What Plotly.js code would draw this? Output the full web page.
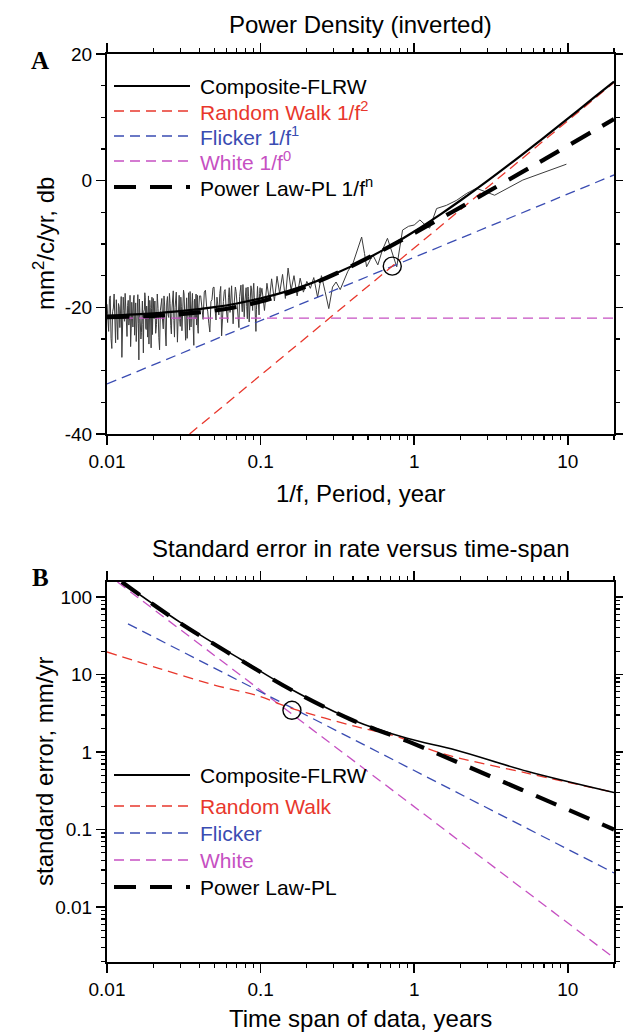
<!DOCTYPE html>
<html>
<head>
<meta charset="utf-8">
<script src="https://cdn.plot.ly/plotly-3.0.1.min.js"></script>
<style>html,body{margin:0;padding:0;background:#fff;}#chart{width:623px;height:1032px;}</style>
</head>
<body>
<div id="chart"></div>
<script>
// ---------- Panel A : power density (inverted) ----------
// observed spectrum (thin noisy line): period (yr) and power (dB)
const obsPeriod = [
0.01000,0.010125,0.01025,0.010375,0.0105,0.010625,0.01075,0.010875,0.011,0.011125,
0.01125,0.011375,0.0115,0.011625,0.01175,0.011875,0.012,0.012125,0.01225,0.012375,
0.0125,0.012625,0.01275,0.012875,0.013,0.013125,0.01325,0.013375,0.0135,0.013625,
0.01375,0.013875,0.014,0.014125,0.01425,0.014375,0.0145,0.014625,0.01475,0.014875,
0.015,0.015125,0.01525,0.015375,0.0155,0.015625,0.01575,0.015875,0.016,0.016125,
0.01625,0.016375,0.0165,0.016625,0.01675,0.016875,0.017,0.017125,0.01725,0.017375,
0.0175,0.017625,0.01775,0.017875,0.018,0.018125,0.01825,0.018375,0.0185,0.018625,
0.01875,0.018875,0.019,0.019125,0.01925,0.019375,0.0195,0.019625,0.01975,0.019875,0.02,
0.02025,0.0205,0.02075,0.021,0.02125,0.0215,0.02175,0.022,0.02225,0.0225,
0.02275,0.023,0.02325,0.0235,0.02375,0.024,0.02425,0.0245,0.02475,0.025,
0.02525,0.0255,0.02575,0.026,0.02625,0.0265,0.02675,0.027,0.02725,0.0275,
0.02775,0.028,0.02825,0.0285,0.02875,0.029,0.02925,0.0295,0.02975,0.03,
0.03025,0.0305,0.03075,0.031,0.03125,0.0315,0.03175,0.032,0.03225,0.0325,
0.03275,0.033,0.03325,0.0335,0.03375,0.034,0.03425,0.0345,0.03475,0.035,
0.03525,0.0355,0.03575,0.036,0.03625,0.0365,0.03675,0.037,0.03725,0.0375,
0.03775,0.038,0.03825,0.0385,0.03875,0.039,0.03925,0.0395,0.03975,0.04,
0.04075,0.0415,0.04225,0.043,0.04375,0.0445,0.04525,0.046,0.04675,0.0475,
0.04825,0.049,0.04975,0.0505,0.05125,0.052,0.05275,0.0535,0.05425,0.055,
0.05575,0.0565,0.05725,0.058,0.05875,0.0595,0.06025,0.061,0.06175,0.0625,
0.06325,0.064,0.06475,0.0655,0.06625,0.067,0.06775,0.0685,0.06925,0.07,
0.07075,0.0715,0.07225,0.073,0.07375,0.0745,0.07525,0.076,0.07675,0.0775,
0.07825,0.079,0.07975,0.0805,0.08125,0.082,0.08275,0.0835,0.08425,0.085,
0.08575,0.0865,0.08725,0.088,0.08875,0.0895,0.09025,0.091,0.09175,0.0925,
0.09325,0.094,0.09475,0.0955,0.09625,0.097,0.09775,0.0985,0.09925,0.1,
0.102,0.106,0.110,0.114,0.118,0.123,0.128,0.133,0.139,0.145,
0.151,0.158,0.165,0.173,0.181,0.190,0.200,0.211,0.222,0.235,
0.249,0.263,0.278,0.294,
0.31,0.33,0.35,0.37,0.40,0.43,0.455,0.475,0.49,0.52,
0.54,0.58,0.62,0.67,0.72,0.77,0.84,0.92,1.0,1.09,
1.18,1.26,1.40,1.62,1.89,2.2,2.54,3.34,5.1,9.8
];
const obsPower = [
-19.5,-22.4,-23.8,-18.6,-18.2,-24.9,-26.5,-20.7,-20.1,-17.9,
-22.9,-25.6,-18.8,-21.3,-25.1,-19.4,-19.9,-23.2,-21.5,-18.3,
-27.9,-22.6,-18.4,-20.5,-22.2,-17.8,-20.3,-24.1,-24.6,-19.7,
-18.9,-22.8,-21.8,-18.1,-26.2,-23.4,-19.2,-21.0,-23.1,-18.7,
-18.1,-24.4,-20.8,-19.3,-25.4,-21.7,-19.6,-18.0,-22.5,-28.3,
-18.7,-20.9,-21.1,-25.0,-24.0,-19.1,-19.0,-22.7,-27.2,-20.6,
-20.4,-17.7,-18.5,-23.3,-23.5,-19.8,-21.0,-24.7,-19.3,-18.2,
-25.8,-21.9,-18.9,-20.0,-22.0,-26.4,-20.2,-18.4,-24.3,-21.6,-18.6,
-21.8,-19.0,-24.1,-22.7,-17.9,-20.2,-24.8,-26.7,-20.5,-18.9,
-18.6,-22.0,-23.4,-18.2,-19.8,-23.9,-26.1,-19.3,-18.3,-21.2,
-21.6,-17.8,-19.4,-22.9,-24.2,-20.1,-18.0,-17.4,-22.1,-24.7,
-20.0,-18.8,-17.6,-21.7,-25.5,-22.3,-19.5,-18.1,-21.9,-23.0,
-18.4,-19.9,-23.7,-20.4,-19.9,-17.3,-17.9,-21.5,-22.4,-25.2,
-20.6,-18.5,-24.9,-21.1,-18.8,-17.7,-20.9,-23.6,-17.5,-19.6,
-23.1,-20.8,-19.2,-17.8,-21.4,-24.4,-26.0,-19.0,-18.7,-21.8,
-20.3,-17.9,-22.8,-19.4,-18.1,-23.3,-24.1,-20.5,-19.6,-18.2,
-18.2,-20.4,-21.9,-17.6,-17.3,-19.8,-20.6,-22.5,-23.9,-19.1,
-18.8,-16.9,-16.8,-20.3,-22.0,-18.4,-19.5,-21.2,-17.8,-16.7,
-24.5,-20.6,-19.1,-17.5,-17.2,-19.7,-21.3,-22.4,-18.5,-16.9,
-20.8,-18.2,-16.6,-19.6,-22.6,-20.1,-18.9,-16.8,-17.5,-19.4,
-20.2,-21.7,-23.2,-18.3,-17.0,-16.5,-19.3,-20.7,-16.4,-18.6,
-21.5,-19.2,-18.1,-16.9,-19.9,-21.8,-16.8,-18.3,-22.3,-19.5,
-18.0,-16.6,-17.1,-19.8,-20.5,-17.3,-16.2,-18.4,-19.0,-21.6,
-23.8,-20.3,-17.4,-16.7,-18.6,-20.0,-21.2,-17.8,-16.9,-18.3,
-17.0,-20.5,-16.2,-18.9,-15.5,-19.0,-15.1,-17.8,-14.8,-18.6,
-13.8,-17.3,-15.0,-18.2,-15.4,-17.6,-15.9,-17.0,-15.3,-18.4,
-15.0,-17.5,-20.2,-16.8,
-16.0,-17.2,-15.6,-14.3,-13.0,-10.5,-8.9,-11.5,-13.6,-12.4,
-11.8,-13.3,-11.0,-9.1,-11.4,-13.6,-7.8,-7.2,-7.0,-6.2,
-7.0,-7.5,-4.4,-3.9,-3.1,-2.0,-1.2,-2.3,0.1,2.6
];
// model curves
const modelPeriod = [0.01,0.02,0.03,0.05,0.07,0.1,0.15,0.2,0.3,0.5,0.7,1,1.5,2,3,5,7,10,15,20];
const compositePower = [-21.32,-20.95,-20.61,-19.97,-19.39,-18.59,-17.44,-16.45,-14.78,-12.23,-10.29,-8.02,-5.23,-3.13,-0.03,4.05,6.81,9.79,13.22,15.66];
const powerLawPower = [-21.56,-21.34,-21.08,-20.51,-19.93,-19.07,-17.77,-16.66,-14.82,-12.19,-10.34,-8.29,-5.91,-4.21,-1.78,1.30,3.33,5.50,7.97,9.71];
const whitePeriod = [0.01, 20];
const whitePower = [-21.7, -21.7];
const flickerPeriod = [0.01, 20];
const flickerPower = [-32.1, 0.9];
const rwPeriod = [0.0345, 20];
const rwPower = [-40, 15.5];
const crossA_x = [0.72];
const crossA_y = [-13.5];

// ---------- Panel B : standard error in rate ----------
const seWhiteT = [0.0117, 20];
const seWhite = [156, 0.0022];
const seFlickerT = [0.0137, 20];
const seFlicker = [45, 0.0275];
const seRwT = [0.01, 0.0217, 0.05, 0.096, 0.159, 0.42, 0.77, 1.51, 5.5, 20];
const seRw = [19.5, 12, 7.3, 5.3, 3.66, 2.12, 1.58, 0.96, 0.53, 0.30];
const seCompT = [0.0125, 0.02, 0.03, 0.05, 0.0755, 0.159, 0.398, 0.9, 1.86, 5.5, 20];
const seComp = [156, 81, 47, 25, 15.4, 6.4, 2.59, 1.5, 1.06, 0.56, 0.30];
const sePlT = [0.0125, 0.02, 0.03, 0.05, 0.0755, 0.159, 0.4, 0.92, 2.0, 5.0, 20];
const sePl = [156, 80, 46, 24.5, 15, 6.3, 2.55, 1.36, 0.71, 0.326, 0.10];
const crossB_x = [0.16];
const crossB_y = [3.45];

// tick labels
const xTickVals = [0.01, 0.1, 1, 10];
const xTickText = ['0.01', '0.1', '1', '10'];
const yTickValsA = [-40, -20, 0, 20];
const yTickTextA = ['-40', '-20', '0', '20'];
const yTickValsB = [0.01, 0.1, 1, 10, 100];
const yTickTextB = ['0.01', '0.1', '1', '10', '100'];

// legend labels
const legendA = ['Composite-FLRW', 'Random Walk 1/f<sup>2</sup>', 'Flicker 1/f<sup>1</sup>', 'White 1/f<sup>0</sup>', 'Power Law-PL 1/f<sup>n</sup>'];
const legendB = ['Composite-FLRW', 'Random Walk', 'Flicker', 'White', 'Power Law-PL'];

// ---------- styles ----------
const RED = '#e8372c', BLUE = '#3a4cb2', MAG = '#c650c2', GRAY = '#3c3c3c';
const styles = [
  {color: 'black', width: 2, dash: 'solid'},
  {color: RED, width: 1.3, dash: '10px,6px'},
  {color: BLUE, width: 1.3, dash: '10px,6px'},
  {color: MAG, width: 1.3, dash: '10px,6px'},
  {color: 'black', width: 4.2, dash: '22px,14px'}
];
const FONT = 'Liberation Sans, Arial, Helvetica, sans-serif';

const traces = [
  {x: obsPeriod, y: obsPower, xaxis: 'x', yaxis: 'y', mode: 'lines', line: {color: GRAY, width: 1}},
  {x: whitePeriod, y: whitePower, xaxis: 'x', yaxis: 'y', mode: 'lines', line: styles[3]},
  {x: flickerPeriod, y: flickerPower, xaxis: 'x', yaxis: 'y', mode: 'lines', line: styles[2]},
  {x: rwPeriod, y: rwPower, xaxis: 'x', yaxis: 'y', mode: 'lines', line: styles[1]},
  {x: modelPeriod, y: compositePower, xaxis: 'x', yaxis: 'y', mode: 'lines', line: Object.assign({shape: 'spline'}, styles[0], {width: 2.2})},
  {x: modelPeriod, y: powerLawPower, xaxis: 'x', yaxis: 'y', mode: 'lines', line: Object.assign({shape: 'spline'}, styles[4])},
  {x: crossA_x, y: crossA_y, xaxis: 'x', yaxis: 'y', mode: 'markers', marker: {symbol: 'circle-open', size: 18, color: 'black', line: {width: 1.4, color: 'black'}}},

  {x: seWhiteT, y: seWhite, xaxis: 'x2', yaxis: 'y2', mode: 'lines', line: styles[3]},
  {x: seFlickerT, y: seFlicker, xaxis: 'x2', yaxis: 'y2', mode: 'lines', line: styles[2]},
  {x: seRwT, y: seRw, xaxis: 'x2', yaxis: 'y2', mode: 'lines', line: Object.assign({shape: 'spline'}, styles[1])},
  {x: seCompT, y: seComp, xaxis: 'x2', yaxis: 'y2', mode: 'lines', line: Object.assign({shape: 'spline'}, styles[0], {width: 1.6})},
  {x: sePlT, y: sePl, xaxis: 'x2', yaxis: 'y2', mode: 'lines', line: Object.assign({shape: 'spline'}, styles[4])},
  {x: crossB_x, y: crossB_y, xaxis: 'x2', yaxis: 'y2', mode: 'markers', marker: {symbol: 'circle-open', size: 18, color: 'black', line: {width: 1.4, color: 'black'}}}
];

// pixel helpers for decorations (plot area: x 107..614, y 54..962)
const L = 107, R = 9, T = 54, B = 70, W = 623, H = 1032;
const pw = W - L - R, ph = H - T - B;
const px2x = p => (p - L) / pw;
const px2y = p => (H - B - p) / ph;

const logMinor = [];
[0.01, 0.1, 1, 10].forEach(d => { for (let k = 2; k <= 9; k++) { if (d * k <= 20) logMinor.push(+(d * k).toPrecision(2)); } });
const logMinorY = [];
[0.001, 0.01, 0.1, 1, 10, 100].forEach(d => { for (let k = 2; k <= 9; k++) logMinorY.push(+(d * k).toPrecision(2)); });

const axBase = {
  showgrid: false, zeroline: false, showline: true, linecolor: 'black', linewidth: 2,
  mirror: 'allticks', ticks: 'outside', ticklen: 9, tickwidth: 1.5, tickcolor: 'black',
  tickfont: {family: FONT, size: 19, color: 'black'}
};
const xAx = (anchor) => Object.assign({}, axBase, {
  type: 'log', range: [-2, Math.log10(20)], tickmode: 'array', tickvals: xTickVals, ticktext: xTickText,
  anchor: anchor, domain: [0, 1],
  minor: {tickmode: 'array', tickvals: logMinor, ticks: 'outside', ticklen: 4, tickwidth: 1.2, tickcolor: 'black', showgrid: false}
});

const shapes = [], annotations = [];
function legend(rows, labels) {
  labels.forEach((lab, i) => {
    const st = styles[i];
    shapes.push({type: 'line', xref: 'paper', yref: 'paper', x0: px2x(114), x1: px2x(190), y0: px2y(rows[i]), y1: px2y(rows[i]),
      line: {color: st.color, width: st.width, dash: st.dash}});
    annotations.push({xref: 'paper', yref: 'paper', x: px2x(198), y: px2y(rows[i]), xanchor: 'left', yanchor: 'middle',
      text: lab, showarrow: false, font: {family: FONT, size: 21, color: st.color}});
  });
}
legend([86, 111, 136, 161, 187], legendA);
legend([775, 806, 833, 860, 887], legendB);

const txt = (text, x, y, size, extra) => Object.assign({xref: 'paper', yref: 'paper', x: x, y: y, text: text, showarrow: false,
  xanchor: 'center', yanchor: 'middle', font: {family: FONT, size: size, color: 'black'}}, extra || {});
annotations.push(txt('Power Density (inverted)', 0.5, px2y(24), 24));
annotations.push(txt('Standard error in rate versus time-span', 0.5, px2y(548), 24));
annotations.push(txt('1/f, Period, year', 0.5, px2y(493), 24));
annotations.push(txt('Time span of data, years', 0.5, px2y(1018), 24));
annotations.push(txt('mm<sup>2</sup>/c/yr, db', px2x(44), px2y(244), 24, {textangle: -90}));
annotations.push(txt('standard error, mm/yr', px2x(44), px2y(772), 24, {textangle: -90}));
const serif = {family: 'Liberation Serif, Times New Roman, serif', size: 25, color: 'black'};
annotations.push(txt('<b>A</b>', px2x(40), px2y(60), 25, {font: serif}));
annotations.push(txt('<b>B</b>', px2x(40), px2y(577), 25, {font: serif}));

const layout = {
  width: W, height: H, margin: {l: L, r: R, t: T, b: B, pad: 0},
  paper_bgcolor: 'white', plot_bgcolor: 'white', showlegend: false,
  font: {family: FONT, color: 'black'},
  xaxis: xAx('y'),
  xaxis2: xAx('y2'),
  yaxis: Object.assign({}, axBase, {domain: [px2y(434), 1], range: [-40, 20], tickmode: 'array', tickvals: yTickValsA, ticktext: yTickTextA, anchor: 'x',
    minor: {dtick: 5, ticks: 'outside', ticklen: 4, tickwidth: 1.2, tickcolor: 'black', showgrid: false}}),
  yaxis2: Object.assign({}, axBase, {domain: [0, px2y(582)], type: 'log', range: [Math.log10(0.00195), Math.log10(156)], tickmode: 'array', tickvals: yTickValsB, ticktext: yTickTextB, anchor: 'x2',
    minor: {tickmode: 'array', tickvals: logMinorY, ticks: 'outside', ticklen: 4, tickwidth: 1.2, tickcolor: 'black', showgrid: false}}),
  shapes: shapes, annotations: annotations
};

Plotly.newPlot('chart', traces, layout, {staticPlot: true, displayModeBar: false});
</script>
</body>
</html>
